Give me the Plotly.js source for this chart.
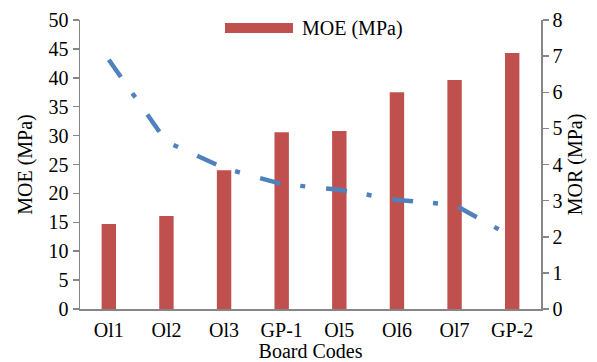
<!DOCTYPE html>
<html>
<head>
<meta charset="utf-8">
<script src="https://cdn.plot.ly/plotly-3.0.1.min.js"></script>
<style>
html,body{margin:0;padding:0;background:#fff;}
#chart{width:597px;height:362px;}
</style>
</head>
<body>
<div id="chart"></div>
<script>
const categories = ["Ol1", "Ol2", "Ol3", "GP-1", "Ol5", "Ol6", "Ol7", "GP-2"];
const moeValues = [14.7, 16.1, 24.0, 30.6, 30.8, 37.5, 39.6, 44.3];
const morValues = [6.9, 4.63, 3.9, 3.46, 3.3, 3.02, 2.88, 2.0];
const moeName = "MOE (MPa)";
const morName = "MOR (MPa)";
const xTitle = "Board Codes";

const FONT = "Liberation Serif, Times New Roman, serif";
const AXIS_COLOR = "#868686";
const FS = 20;

const traces = [
  {
    type: "bar",
    x: categories,
    y: moeValues,
    name: moeName,
    marker: {color: "#C0504D"},
    width: 0.25,
    showlegend: false,
    hoverinfo: "x+y"
  },
  {
    type: "scatter",
    mode: "lines",
    x: categories,
    y: morValues,
    name: morName,
    yaxis: "y2",
    line: {color: "#4F81BD", width: 4.5, dash: "21px,20px,5px,21px"},
    showlegend: false
  }
];

const layout = {
  width: 597,
  height: 362,
  margin: {l: 80, r: 56, t: 20, b: 53},
  paper_bgcolor: "#fff",
  plot_bgcolor: "#fff",
  font: {family: FONT, size: FS, color: "#000"},
  showlegend: false,
  bargap: 0.75,
  xaxis: {
    type: "category",
    showline: true,
    linecolor: AXIS_COLOR,
    linewidth: 1.5,
    ticks: "",
    ticklabelstandoff: 2,
    showgrid: false,
    zeroline: false,
    tickfont: {family: FONT, size: FS},
    title: {text: xTitle, font: {family: FONT, size: FS}, standoff: 6},
    automargin: false
  },
  yaxis: {
    range: [0, 50],
    dtick: 5,
    showline: true,
    linecolor: AXIS_COLOR,
    linewidth: 1.5,
    ticks: "outside",
    ticklen: 6,
    tickcolor: AXIS_COLOR,
    tickwidth: 1.5,
    showgrid: false,
    zeroline: false,
    tickfont: {family: FONT, size: FS},
    title: {text: moeName, font: {family: FONT, size: FS}, standoff: 10},
    automargin: false
  },
  yaxis2: {
    range: [0, 8],
    dtick: 1,
    overlaying: "y",
    side: "right",
    showline: true,
    linecolor: AXIS_COLOR,
    linewidth: 1.5,
    ticks: "outside",
    ticklen: 6,
    tickcolor: AXIS_COLOR,
    tickwidth: 1.5,
    showgrid: false,
    zeroline: false,
    tickfont: {family: FONT, size: FS},
    title: {text: morName, font: {family: FONT, size: FS}, standoff: 6},
    automargin: false
  },
  shapes: [
    {type: "rect", xref: "paper", yref: "paper", x0: 0.3145, x1: 0.462, y0: 0.955, y1: 0.9896,
     fillcolor: "#C0504D", line: {width: 0}}
  ],
  annotations: [
    {xref: "paper", yref: "paper", x: 0.477, y: 0.972, xanchor: "left", yanchor: "middle",
     text: moeName, showarrow: false, font: {family: FONT, size: FS, color: "#000"}}
  ]
};

Plotly.newPlot("chart", traces, layout, {displayModeBar: false, staticPlot: true});
</script>
</body>
</html>
